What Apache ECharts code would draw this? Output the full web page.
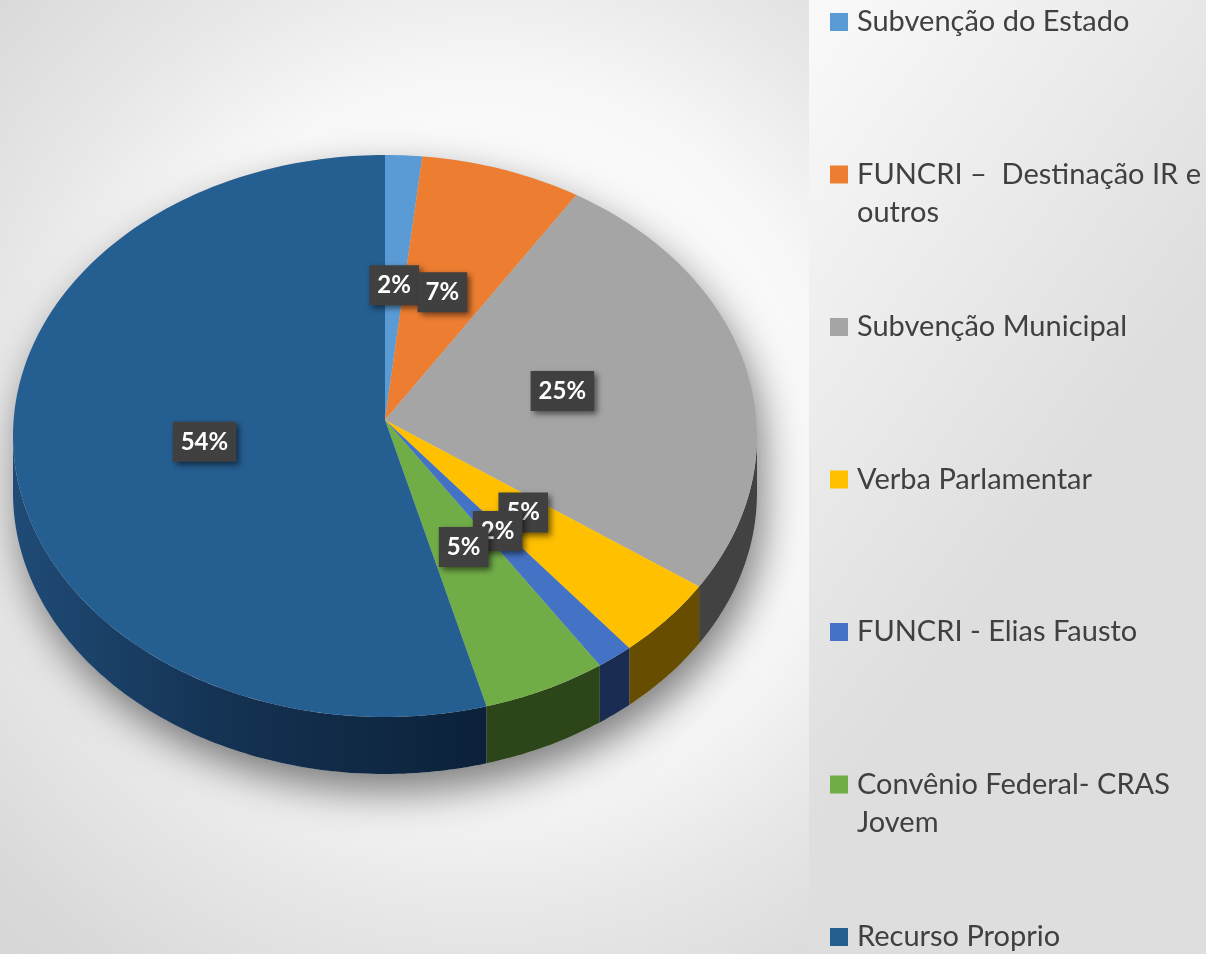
<!DOCTYPE html>
<html>
<head>
<meta charset="utf-8">
<script src="https://cdn.jsdelivr.net/npm/echarts@6/dist/echarts.min.js"></script>
<style>
  html, body { margin: 0; padding: 0; }
  #main { width: 1206px; height: 954px; }
</style>
</head>
<body>
<div id="main"></div>
<script>
// dados (rótulos arredondados: 2, 7, 25, 5, 2, 5, 54 %)
var categories = [
  'Subvenção do Estado',
  'FUNCRI –  Destinação IR e\noutros',
  'Subvenção Municipal',
  'Verba Parlamentar',
  'FUNCRI - Elias Fausto',
  'Convênio Federal- CRAS\nJovem',
  'Recurso Proprio'
];
var values = [1.6, 7, 25.4, 4.6, 1.6, 5.4, 54.4];
var topColors = ['#5b9bd5', '#ed7d31', '#a5a5a5', '#ffc000', '#4472c4', '#70ad47', '#255e91'];
var sideColors = ['#2e5a84', '#7a3f16', '#424242', '#664d00', '#1b2c52', '#2c4619', '#0e2540'];

(function () {
  var myChart = echarts.init(document.getElementById('main'));

  var total = values.reduce(function (a, b) { return a + b; }, 0);
  // geometria da pizza "3D" (elipse vista de cima)
  var cx = 385, cy = 436, rx = 372, ry = 281, apexY = 420, depth = 57;

  function rim(deg, dy) {
    var a = deg * Math.PI / 180;
    return [cx + rx * Math.sin(a), cy - ry * Math.cos(a) + (dy || 0)];
  }
  function arc(from, to, dy) {
    var pts = [];
    var n = Math.max(2, Math.ceil(Math.abs(to - from)));
    for (var k = 0; k <= n; k++) {
      pts.push(rim(from + (to - from) * k / n, dy));
    }
    return pts;
  }

  function renderItem(params, api) {
    var i = params.dataIndex;
    var before = 0;
    for (var k = 0; k < i; k++) before += values[k];
    var start = before / total * 360;
    var end = (before + values[i]) / total * 360;
    var children = [];

    // sombra embaixo da pizza
    if (i === 0) {
      var outline = arc(270, 450, 0).concat(arc(90, 270, depth));
      children.push({
        type: 'polygon', z2: 0,
        shape: { points: outline },
        style: {
          fill: '#d0d0d0',
          shadowBlur: 40,
          shadowColor: 'rgba(0,0,0,0.5)',
          shadowOffsetX: 6,
          shadowOffsetY: 18
        }
      });
    }

    // lateral (só a metade da frente aparece)
    var lo = Math.max(start, 90), hi = Math.min(end, 270);
    if (lo < hi) {
      var wall = arc(lo, hi, 0).concat(arc(hi, lo, depth));
      var fill = sideColors[i];
      if (i === values.length - 1) {
        fill = new echarts.graphic.LinearGradient(0, 0, 1, 0, [
          { offset: 0, color: '#1f4b76' },
          { offset: 0.45, color: '#143252' },
          { offset: 1, color: '#0c2139' }
        ]);
      }
      children.push({
        type: 'polygon', z2: 1,
        shape: { points: wall },
        style: { fill: fill }
      });
    }

    // face de cima
    var face = [[cx, apexY]].concat(arc(start, end, 0));
    children.push({
      type: 'polygon', z2: 2,
      shape: { points: face },
      style: { fill: topColors[i] }
    });

    // rótulo
    var mid = rim((start + end) / 2, 0);
    children.push({
      type: 'text', z2: 100 + i,
      x: cx + (mid[0] - cx) * 0.49,
      y: apexY + (mid[1] - apexY) * 0.49 - 5,
      style: {
        text: Math.round(values[i] / total * 100) + '%',
        fill: '#ffffff',
        font: 'bold 24px Lato',
        align: 'center',
        verticalAlign: 'middle',
        backgroundColor: '#404040',
        padding: [9, 8, 7, 8],
        shadowBlur: 6,
        shadowColor: 'rgba(0,0,0,0.55)',
        shadowOffsetX: 3,
        shadowOffsetY: 3
      }
    });

    return { type: 'group', children: children };
  }

  var option = {
    backgroundColor: {
      type: 'radial', x: 0.4, y: 0.45, r: 0.8,
      colorStops: [
        { offset: 0, color: '#ffffff' },
        { offset: 0.45, color: '#f8f8f8' },
        { offset: 0.63, color: '#e8e8e8' },
        { offset: 0.85, color: '#d9d9d9' },
        { offset: 1, color: '#d4d4d4' }
      ]
    },
    color: topColors,
    graphic: [{
      type: 'rect', left: 809, top: 0, z: -1, silent: true,
      shape: { width: 397, height: 954 },
      style: {
        fill: new echarts.graphic.LinearGradient(0, 0, 1, 0.3, [
          { offset: 0, color: '#fafafa' },
          { offset: 1, color: '#dedede' }
        ])
      }
    }],
    legend: {
      orient: 'vertical',
      left: 830,
      top: -35,
      height: 1300,
      padding: 0,
      itemGap: 38.5,
      itemWidth: 18,
      itemHeight: 18,
      icon: 'rect',
      selectedMode: false,
      textStyle: {
        color: '#404040', fontSize: 29, fontFamily: 'Lato', lineHeight: 38,
        padding: [0, 0, 0, 4]
      },
      formatter: function (name) {
        var parts = name.split('\n');
        return '\n' + parts[0] + '\n' + (parts[1] || '');
      },
      data: categories
    },
    series: [
      {
        type: 'custom',
        coordinateSystem: 'none',
        silent: true,
        data: values,
        renderItem: renderItem
      },
      {
        // só para a legenda
        name: 'legenda',
        type: 'pie',
        radius: [0, 0],
        center: [cx, apexY],
        silent: true,
        label: { show: false },
        labelLine: { show: false },
        data: categories.map(function (c, i) {
          return { name: c, value: values[i] };
        })
      }
    ]
  };

  myChart.setOption(option);
  window.addEventListener('resize', function () {
    myChart.resize();
  });
})();
</script>
</body>
</html>
